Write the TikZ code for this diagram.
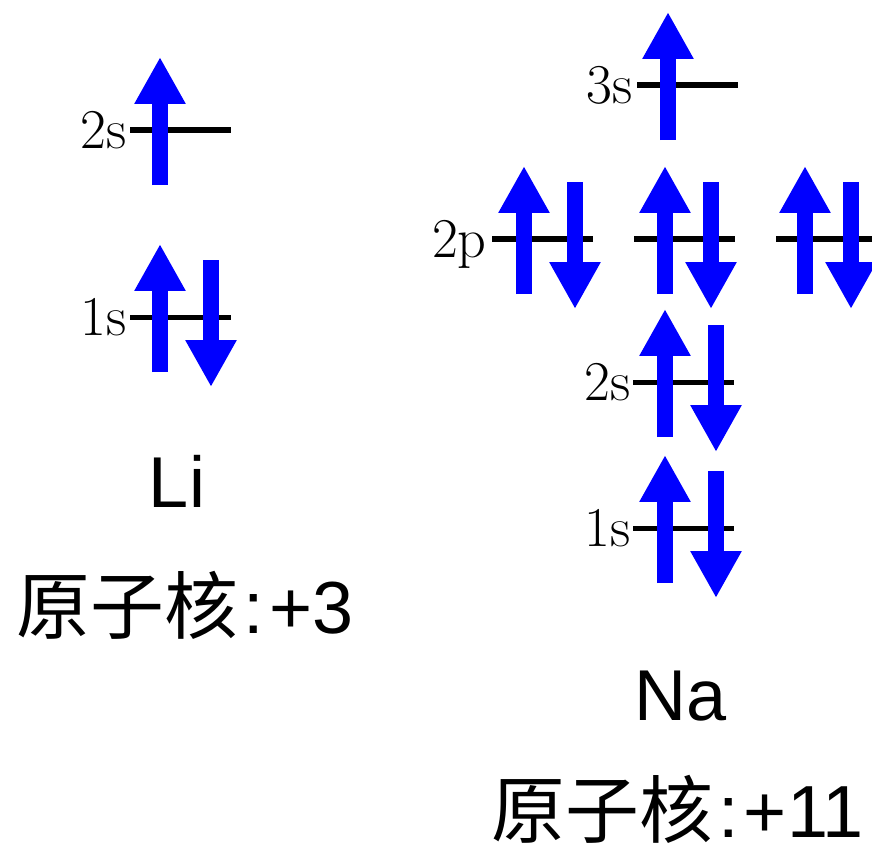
\documentclass[tikz,border=0pt]{standalone}
\usepackage{fontspec}
\newfontfamily\arial{Liberation Sans}
\newfontfamily\cjk{Noto Sans CJK SC}
\usetikzlibrary{calc, arrows.meta}

\tikzset{
  level/.style={line width=2.85pt},
  spin/.style={blue, line width=9.1pt, -{Triangle[length=26.7pt,width=27.3pt]}},
  lbl/.style={anchor=east, inner sep=0pt, text depth=0pt, font=\fontsize{32}{38}\selectfont},
  elem/.style={anchor=base, inner sep=0pt, font=\arial\fontsize{41}{48}\selectfont},
  charge/.style={anchor=base, inner sep=0pt, font=\arial\fontsize{42}{50}\selectfont},
}
% electron arrows: level, x offset
\newcommand{\eup}[2]{\draw [spin] ($(#1)+(#2,55)$) -- ($(#1)+(#2,-73)$);}
\newcommand{\edn}[2]{\draw [spin] ($(#1)+(#2,-57)$) -- ($(#1)+(#2,70)$);}
\newcommand{\nuc}[1]{{\cjk 原子核}\hspace{3pt}:\hspace{3pt}+#1}

\begin{document}
\begin{tikzpicture}[x=0.02cm, y=-0.02cm]
\useasboundingbox [fill=white] (0,0) rectangle (872,852);

% Li
\draw [level] (130,130) coordinate (Li2s) -- ++(101,0);
\draw [level] (130,317) coordinate (Li1s) -- ++(101,0);
\node [lbl] (tLi2s) at ($(Li2s)+(-3,0)$) {2s};
\node [lbl] (tLi1s) at ($(Li1s)+(-3,0)$) {1s};
\eup{Li2s}{30}
\eup{Li1s}{30} \edn{Li1s}{81}
\node [elem] (Li) at (177,507) {Li};
\node [charge] (LiZ) at (185,633) {\nuc{3}};

% Na
\draw [level] (637,85) coordinate (Na3s) -- ++(101,0);
\draw [level] (492,239) coordinate (Na2pa) -- ++(101,0);
\draw [level] (634,239) coordinate (Na2pb) -- ++(101,0);
\draw [level] (776,239) coordinate (Na2pc) -- ++(101,0);
\draw [level] (633,382) coordinate (Na2s) -- ++(101,0);
\draw [level] (633,528) coordinate (Na1s) -- ++(101,0);
\node [lbl] (tNa3s) at ($(Na3s)+(-4,0)$) {3s};
\node [lbl] (tNa2p) at ($(Na2pa)+(-5,0)$) {2p};
\node [lbl] (tNa2s) at ($(Na2s)+(-2,0)$) {2s};
\node [lbl] (tNa1s) at ($(Na1s)+(-2,0)$) {1s};
\eup{Na3s}{31}
\eup{Na2pa}{32} \edn{Na2pa}{83}
\eup{Na2pb}{31} \edn{Na2pb}{77}
\eup{Na2pc}{29} \edn{Na2pc}{75}
\eup{Na2s}{32} \edn{Na2s}{83}
\eup{Na1s}{32} \edn{Na1s}{83}
\node [elem] (Na) at (681,720) {Na};
\node [charge, anchor=base east] (NaZ) at (864,837) {\nuc{11}};
\end{tikzpicture}
\end{document}
